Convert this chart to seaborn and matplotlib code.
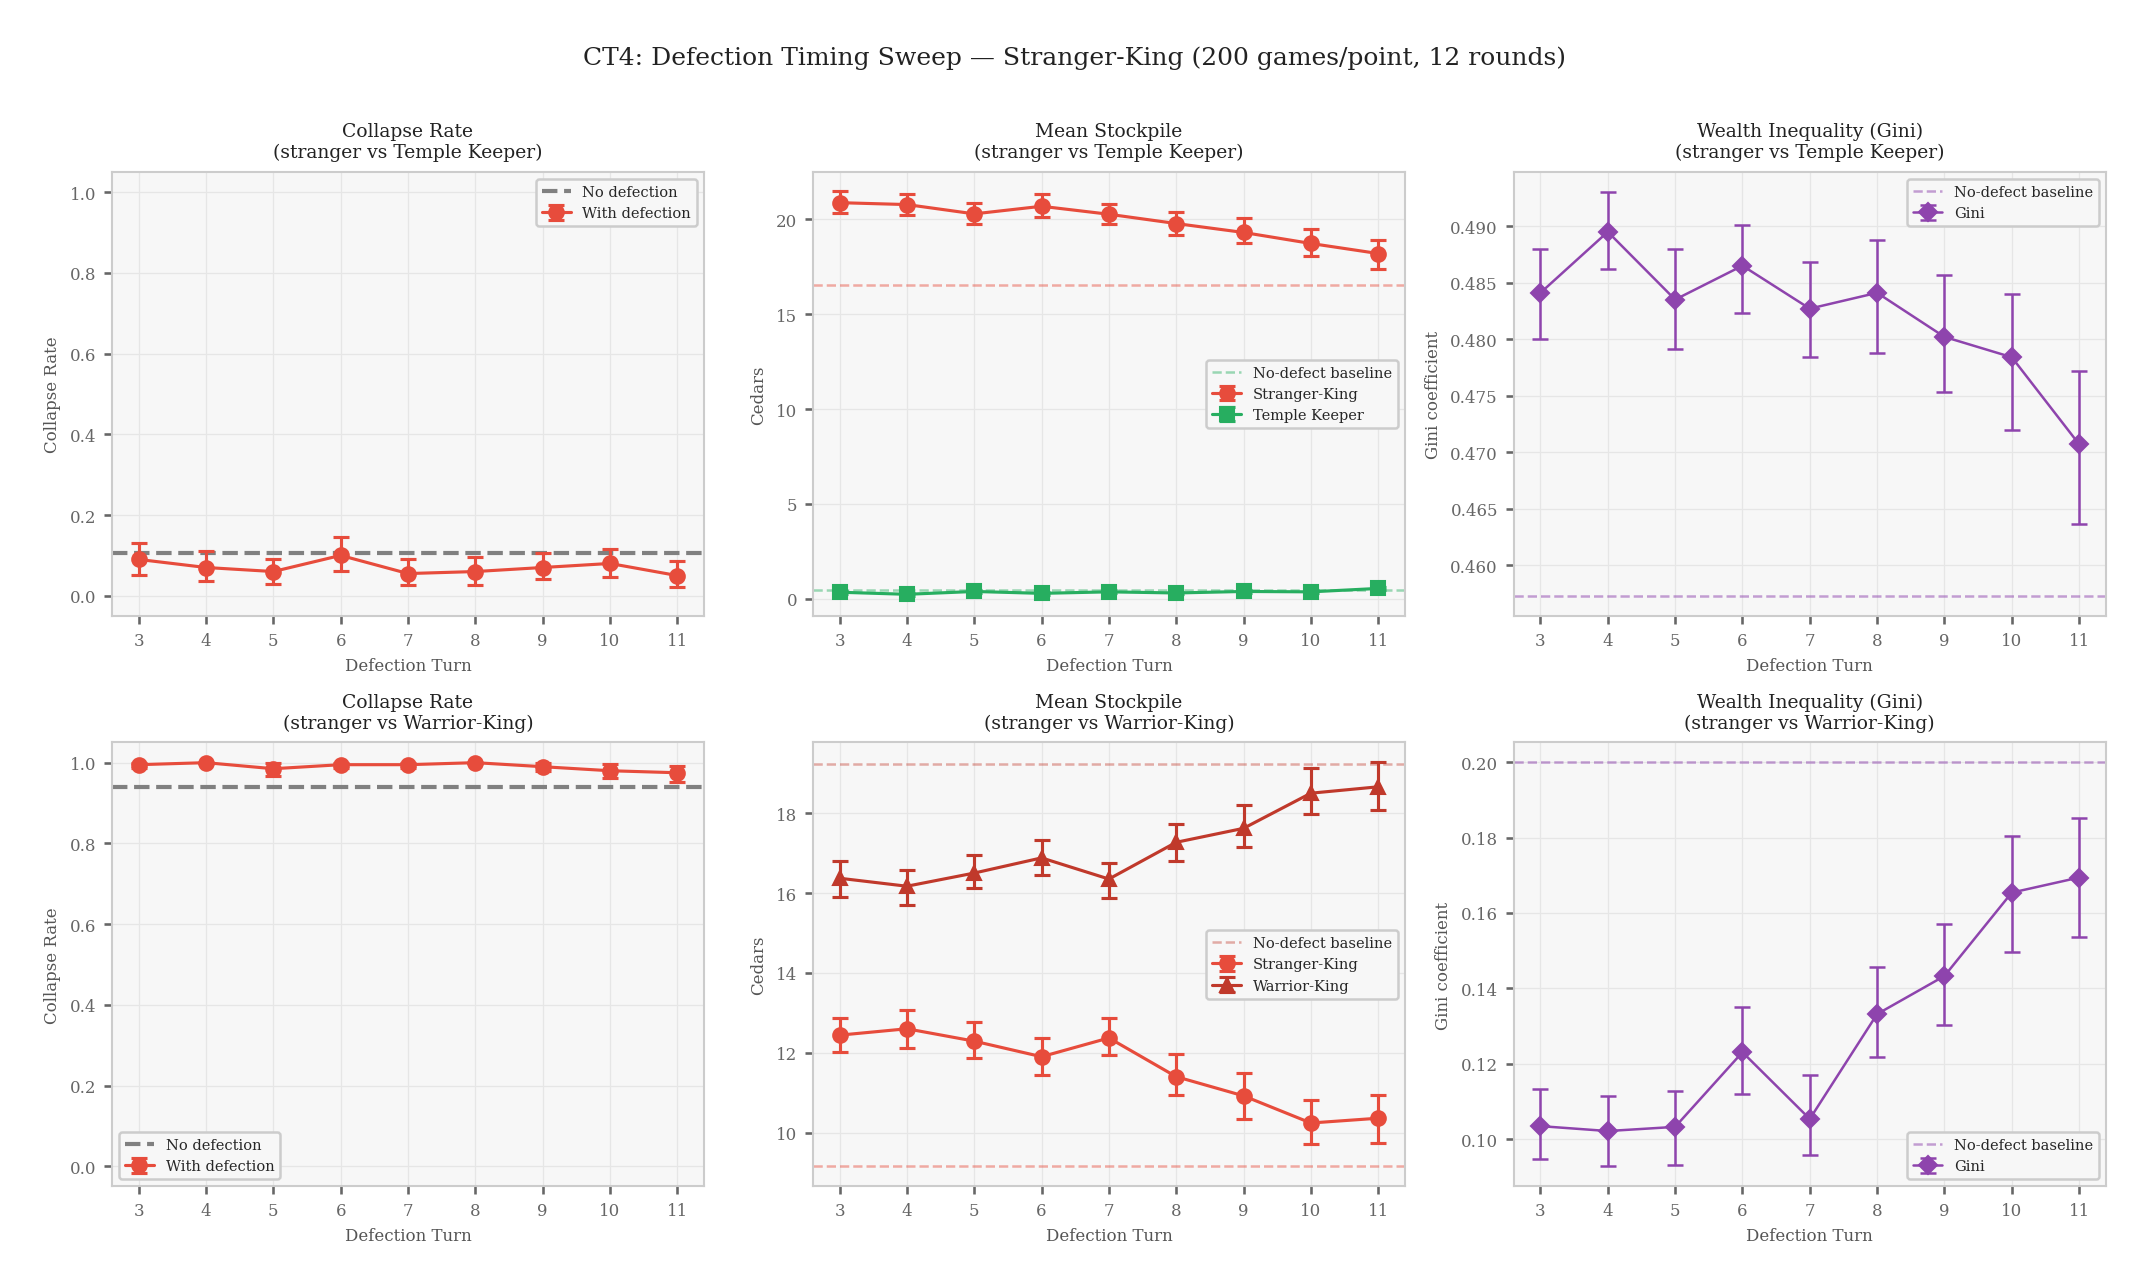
import numpy as np
import matplotlib
matplotlib.use("Agg")
import matplotlib.pyplot as plt
import seaborn as sns

turns = [3, 4, 5, 6, 7, 8, 9, 10, 11]

# --- stranger vs Temple Keeper ---
tk_collapse = [0.09, 0.07, 0.06, 0.10, 0.055, 0.06, 0.07, 0.08, 0.05]
tk_collapse_lo = [0.052, 0.037, 0.028, 0.062, 0.027, 0.027, 0.041, 0.047, 0.022]
tk_collapse_hi = [0.131, 0.110, 0.091, 0.145, 0.091, 0.097, 0.106, 0.116, 0.086]
tk_collapse_base = 0.105

tk_sk_stock = [20.88, 20.78, 20.29, 20.69, 20.27, 19.78, 19.31, 18.73, 18.20]
tk_sk_stock_lo = [20.33, 20.24, 19.75, 20.10, 19.75, 19.18, 18.75, 18.06, 17.37]
tk_sk_stock_hi = [21.51, 21.35, 20.86, 21.33, 20.80, 20.39, 20.06, 19.47, 18.90]
tk_sk_base = 16.53

tk_tk_stock = [0.35, 0.24, 0.39, 0.29, 0.37, 0.31, 0.39, 0.37, 0.55]
tk_tk_stock_lo = [0.27, 0.17, 0.31, 0.22, 0.29, 0.24, 0.31, 0.29, 0.45]
tk_tk_stock_hi = [0.43, 0.31, 0.47, 0.36, 0.45, 0.38, 0.47, 0.45, 0.65]
tk_tk_base = 0.49

tk_gini = [0.4841, 0.4895, 0.4835, 0.4865, 0.4827, 0.4841, 0.4802, 0.4784, 0.4707]
tk_gini_lo = [0.4800, 0.4862, 0.4791, 0.4823, 0.4784, 0.4788, 0.4753, 0.4720, 0.4636]
tk_gini_hi = [0.4880, 0.4930, 0.4880, 0.4901, 0.4868, 0.4888, 0.4857, 0.4840, 0.4772]
tk_gini_base = 0.4573

# --- stranger vs Warrior-King ---
wk_collapse = [0.995, 1.0, 0.985, 0.995, 0.995, 1.0, 0.99, 0.98, 0.975]
wk_collapse_lo = [0.987, 1.0, 0.967, 0.987, 0.987, 1.0, 0.979, 0.961, 0.951]
wk_collapse_hi = [1.0, 1.0, 1.0, 1.0, 1.0, 1.0, 1.0, 0.997, 0.991]
wk_collapse_base = 0.94

wk_sk_stock = [12.44, 12.60, 12.29, 11.90, 12.37, 11.40, 10.92, 10.24, 10.36]
wk_sk_stock_lo = [12.03, 12.13, 11.86, 11.43, 11.95, 10.93, 10.35, 9.72, 9.75]
wk_sk_stock_hi = [12.88, 13.08, 12.76, 12.38, 12.87, 11.98, 11.48, 10.82, 10.95]
wk_sk_base = 9.16

wk_wk_stock = [16.37, 16.17, 16.50, 16.88, 16.35, 17.27, 17.62, 18.50, 18.66]
wk_wk_stock_lo = [15.91, 15.70, 16.13, 16.44, 15.88, 16.81, 17.14, 17.97, 18.07]
wk_wk_stock_hi = [16.80, 16.58, 16.96, 17.33, 16.75, 17.74, 18.20, 19.12, 19.27]
wk_wk_base = 19.23

wk_gini = [0.1035, 0.1022, 0.1033, 0.1231, 0.1054, 0.1332, 0.1433, 0.1654, 0.1694]
wk_gini_lo = [0.0949, 0.0929, 0.0932, 0.1121, 0.0959, 0.1218, 0.1302, 0.1497, 0.1537]
wk_gini_hi = [0.1134, 0.1114, 0.1127, 0.1351, 0.1170, 0.1457, 0.1572, 0.1804, 0.1851]
wk_gini_base = 0.2000

RED = "#e74c3c"
DARKRED = "#c0392b"
GREEN = "#27ae60"
PURPLE = "#8e44ad"

sns.set_theme(style="whitegrid")
plt.rcParams.update({
    "font.family": ["DejaVu Serif"],
    "axes.facecolor": "#f7f7f7",
    "axes.edgecolor": "#cccccc",
    "axes.linewidth": 1.0,
    "grid.color": "#e6e6e6",
    "grid.linewidth": 0.6,
    "xtick.bottom": True,
    "ytick.left": True,
    "xtick.major.size": 4,
    "ytick.major.size": 4,
    "xtick.color": "#666666",
    "ytick.color": "#666666",
    "xtick.labelcolor": "#666666",
    "ytick.labelcolor": "#666666",
    "axes.labelcolor": "#555555",
})


def yerr(vals, lo, hi):
    v = np.array(vals)
    return [v - np.array(lo), np.array(hi) - v]


def ebar(ax, vals, lo, hi, color, marker, label, lw=1.5, ms=7):
    ax.errorbar(turns, vals, yerr=yerr(vals, lo, hi), color=color, marker=marker,
                markersize=ms, linewidth=lw, elinewidth=lw, capsize=4, capthick=lw,
                label=label)


def style_ax(ax, title, ylabel):
    ax.set_title(title, fontsize=9, color="#222222", pad=7)
    ax.set_xlabel("Defection Turn", fontsize=8)
    ax.set_ylabel(ylabel, fontsize=8)
    ax.set_xticks(turns)
    ax.set_xlim(2.6, 11.4)
    ax.tick_params(labelsize=8)
    for s in ax.spines.values():
        s.set_color("#cccccc")


def legend(ax, loc):
    leg = ax.legend(loc=loc, fontsize=7, frameon=True, facecolor="#f7f7f7",
                    edgecolor="#cccccc", framealpha=1.0)
    leg.get_frame().set_linewidth(1.2)


fig, axes = plt.subplots(2, 3, figsize=(2149 / 150, 1281 / 150), dpi=150)
fig.subplots_adjust(left=0.052, right=0.98, bottom=0.073, top=0.865,
                    wspace=0.183, hspace=0.285)

# Row 1
ax = axes[0, 0]
ax.axhline(tk_collapse_base, color="#808080", linestyle="--", linewidth=2, label="No defection")
ebar(ax, tk_collapse, tk_collapse_lo, tk_collapse_hi, RED, "o", "With defection")
ax.set_ylim(-0.05, 1.05)
style_ax(ax, "Collapse Rate\n(stranger vs Temple Keeper)", "Collapse Rate")
legend(ax, "upper right")

ax = axes[0, 1]
ax.axhline(tk_sk_base, color=RED, linestyle="--", linewidth=1.2, alpha=0.45)
ax.axhline(tk_tk_base, color=GREEN, linestyle="--", linewidth=1.2, alpha=0.45,
           label="No-defect baseline")
ebar(ax, tk_sk_stock, tk_sk_stock_lo, tk_sk_stock_hi, RED, "o", "Stranger-King")
ebar(ax, tk_tk_stock, tk_tk_stock_lo, tk_tk_stock_hi, GREEN, "s", "Temple Keeper")
ax.set_ylim(-0.9, 22.5)
style_ax(ax, "Mean Stockpile\n(stranger vs Temple Keeper)", "Cedars")
legend(ax, "center right")

ax = axes[0, 2]
ax.axhline(tk_gini_base, color=PURPLE, linestyle="--", linewidth=1.2, alpha=0.5,
           label="No-defect baseline")
ebar(ax, tk_gini, tk_gini_lo, tk_gini_hi, PURPLE, "D", "Gini", lw=1.2, ms=6)
ax.set_ylim(0.4555, 0.4948)
style_ax(ax, "Wealth Inequality (Gini)\n(stranger vs Temple Keeper)", "Gini coefficient")
legend(ax, "upper right")

# Row 2
ax = axes[1, 0]
ax.axhline(wk_collapse_base, color="#808080", linestyle="--", linewidth=2, label="No defection")
ebar(ax, wk_collapse, wk_collapse_lo, wk_collapse_hi, RED, "o", "With defection")
ax.set_ylim(-0.05, 1.05)
style_ax(ax, "Collapse Rate\n(stranger vs Warrior-King)", "Collapse Rate")
legend(ax, "lower left")

ax = axes[1, 1]
ax.axhline(wk_sk_base, color=RED, linestyle="--", linewidth=1.2, alpha=0.45)
ax.axhline(wk_wk_base, color=DARKRED, linestyle="--", linewidth=1.2, alpha=0.4,
           label="No-defect baseline")
ebar(ax, wk_sk_stock, wk_sk_stock_lo, wk_sk_stock_hi, RED, "o", "Stranger-King")
ebar(ax, wk_wk_stock, wk_wk_stock_lo, wk_wk_stock_hi, DARKRED, "^", "Warrior-King")
ax.set_ylim(8.65, 19.77)
style_ax(ax, "Mean Stockpile\n(stranger vs Warrior-King)", "Cedars")
legend(ax, "center right")

ax = axes[1, 2]
ax.axhline(wk_gini_base, color=PURPLE, linestyle="--", linewidth=1.2, alpha=0.5,
           label="No-defect baseline")
ebar(ax, wk_gini, wk_gini_lo, wk_gini_hi, PURPLE, "D", "Gini", lw=1.2, ms=6)
ax.set_ylim(0.0875, 0.2052)
style_ax(ax, "Wealth Inequality (Gini)\n(stranger vs Warrior-King)", "Gini coefficient")
legend(ax, "lower right")

fig.suptitle("CT4: Defection Timing Sweep \u2014 Stranger-King (200 games/point, 12 rounds)",
             fontsize=12, color="#222222", y=0.964)

fig.savefig("out.png", dpi=150)
